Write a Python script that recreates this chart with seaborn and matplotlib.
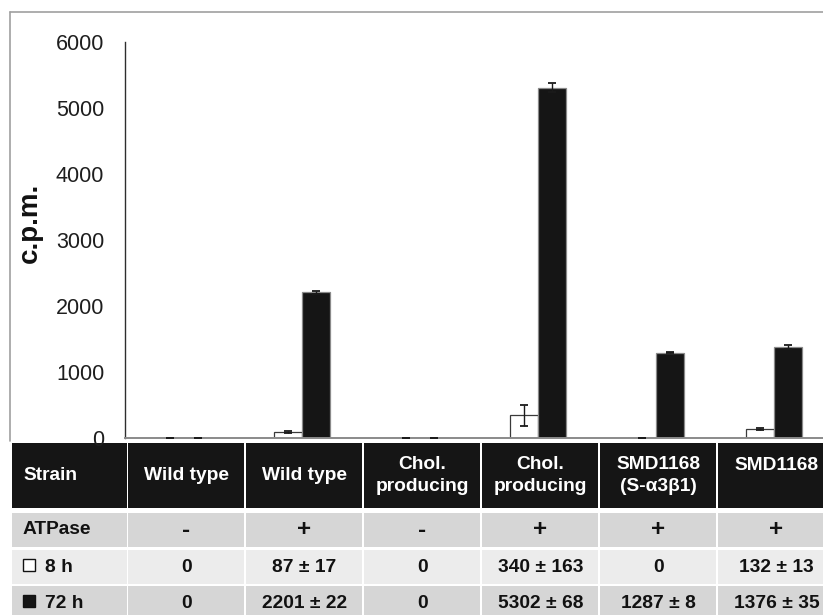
import matplotlib
matplotlib.use("Agg")
import matplotlib.pyplot as plt
from matplotlib.patches import Rectangle
from matplotlib.lines import Line2D
import numpy as np
import pandas as pd
import seaborn as sns

# ---- data -------------------------------------------------------------
strains = ["Wild type", "Wild type", "Chol.\nproducing", "Chol.\nproducing",
           "SMD1168\n(S-α3β1)", "SMD1168"]
atpase = ["-", "+", "-", "+", "+", "+"]
cpm_8h = [0, 87, 0, 340, 0, 132]
sd_8h = [0, 17, 0, 163, 0, 13]
cpm_72h = [0, 2201, 0, 5302, 1287, 1376]
sd_72h = [0, 22, 0, 68, 8, 35]
times = ["8 h", "72 h"]
row_labels = ["Strain", "ATPase", "8 h", "72 h"]
y_ticks = [0, 1000, 2000, 3000, 4000, 5000, 6000]

lanes = [f"lane{i}" for i in range(len(strains))]
df = pd.DataFrame({
    "lane": lanes * 2,
    "time": [times[0]] * len(lanes) + [times[1]] * len(lanes),
    "cpm": cpm_8h + cpm_72h,
    "sd": sd_8h + sd_72h,
})

# ---- style ------------------------------------------------------------
sns.set_style("white")
plt.rcParams["font.family"] = ["Liberation Sans", "DejaVu Sans"]

W, H = 823, 615
fig = plt.figure(figsize=(W / 100, H / 100), dpi=100)

# overlay in pixel coordinates for the frame and the table
tab = fig.add_axes([0, 0, 1, 1], zorder=0)
tab.set_xlim(0, W)
tab.set_ylim(H, 0)
tab.axis("off")

x0, x1 = 125, 833
ybase, ytop = 437.7, 41.7
ax = fig.add_axes([x0 / W, (H - ybase) / H, (x1 - x0) / W, (ybase - ytop) / H], zorder=2)
ax.patch.set_alpha(0)

black = "#151515"
palette = {times[0]: "white", times[1]: black}
sns.barplot(data=df, x="lane", y="cpm", hue="time", order=lanes, hue_order=times,
            palette=palette, width=0.47, gap=0,
            errorbar=None, legend=False, linewidth=0.9, edgecolor="#777777", ax=ax)

n = len(lanes)
bars = ax.patches
for p in bars[:n]:
    p.set_edgecolor("#3a3a3a")
for p in bars[n:2 * n]:
    p.set_edgecolor("#8a8a8a")

# error bars on each bar
for patches, vals, errs in ((bars[:n], cpm_8h, sd_8h), (bars[n:2 * n], cpm_72h, sd_72h)):
    xs = [p.get_x() + p.get_width() / 2 for p in patches]
    ax.errorbar(xs, vals, yerr=errs, fmt="none", ecolor="#1a1a1a",
                elinewidth=1.0, capsize=3, capthick=1.3, zorder=5)

ax.set_xlim(-0.5, n - 0.5)
ax.set_ylim(0, 6000)
ax.set_yticks(y_ticks)
ax.set_yticklabels([str(t) for t in y_ticks])
ax.tick_params(axis="y", length=0, pad=15, labelsize=15.5, labelcolor="#1e1e1e")
ax.set_xticks([])
ax.set_xlabel("")
ax.set_ylabel("")
for s in ("top", "right"):
    ax.spines[s].set_visible(False)
ax.spines["left"].set_color("#2e2e2e")
ax.spines["left"].set_linewidth(1.0)
ax.spines["bottom"].set_color("#8a8a8a")
ax.spines["bottom"].set_linewidth(1.4)

fig.text(30 / W, 1 - 223 / H, "c.p.m.", rotation=90, ha="center", va="center",
         fontsize=20, fontweight="bold", color="#111111")

# outer frame lines
tab.add_line(Line2D([10, W], [12, 12], color="#a0a0a0", lw=1.2))
tab.add_line(Line2D([10, 10], [12, 441], color="#a0a0a0", lw=1.2))

# ---- table under the bars ---------------------------------------------
bounds = [ax.transData.transform((k - 0.5, 0))[0] for k in range(n + 1)]
cols = [(12, 127)] + [(bounds[k] + 3.5, bounds[k + 1] + 1.5) for k in range(n)]
rows = [(443, 508), (513, 547), (550, 584), (586, 621)]
fills = [black, "#d6d6d6", "#ececec", "#d6d6d6"]
txt_colors = ["white", "#111111", "#111111", "#111111"]
row_swatch = [None, None, palette[times[0]], palette[times[1]]]


def fmt(v, s):
    return "0" if v == 0 else f"{v} \u00B1 {s}"


cells = [
    strains,
    atpase,
    [fmt(v, s) for v, s in zip(cpm_8h, sd_8h)],
    [fmt(v, s) for v, s in zip(cpm_72h, sd_72h)],
]
cell_sizes = [13.8, 17.5, 13.8, 13.8]

fs = 13.8
for r, (ya, yb) in enumerate(rows):
    for c, (xa, xb) in enumerate(cols):
        tab.add_patch(Rectangle((xa, ya), xb - xa, yb - ya, facecolor=fills[r],
                                edgecolor="none", zorder=1))
    yc = (ya + yb) / 2
    if row_swatch[r] is None:
        tab.text(23, yc, row_labels[r], ha="left", va="center", fontsize=fs,
                 fontweight="bold", color=txt_colors[r], zorder=3)
    else:
        # legend swatch for the series drawn in this row
        tab.add_patch(Rectangle((23.5, yc - 8.5), 12, 12, facecolor=row_swatch[r],
                                edgecolor="#111111", lw=1.0, zorder=3))
        tab.text(45, yc, row_labels[r], ha="left", va="center", fontsize=fs,
                 fontweight="bold", color=txt_colors[r], zorder=3)
    for c, label in enumerate(cells[r]):
        xa, xb = cols[c + 1]
        xc = (xa + xb) / 2
        if r == 0 and "\n" not in label and label.startswith("SMD"):
            # single-line strain name sits on the upper text line
            tab.text(xc, 465, label, ha="center", va="center", fontsize=fs,
                     fontweight="bold", color=txt_colors[r], zorder=3)
        else:
            tab.text(xc, yc, label, ha="center", va="center", fontsize=cell_sizes[r],
                     fontweight="bold", color=txt_colors[r], zorder=3,
                     linespacing=1.45)

fig.savefig("out.png", dpi=100)
